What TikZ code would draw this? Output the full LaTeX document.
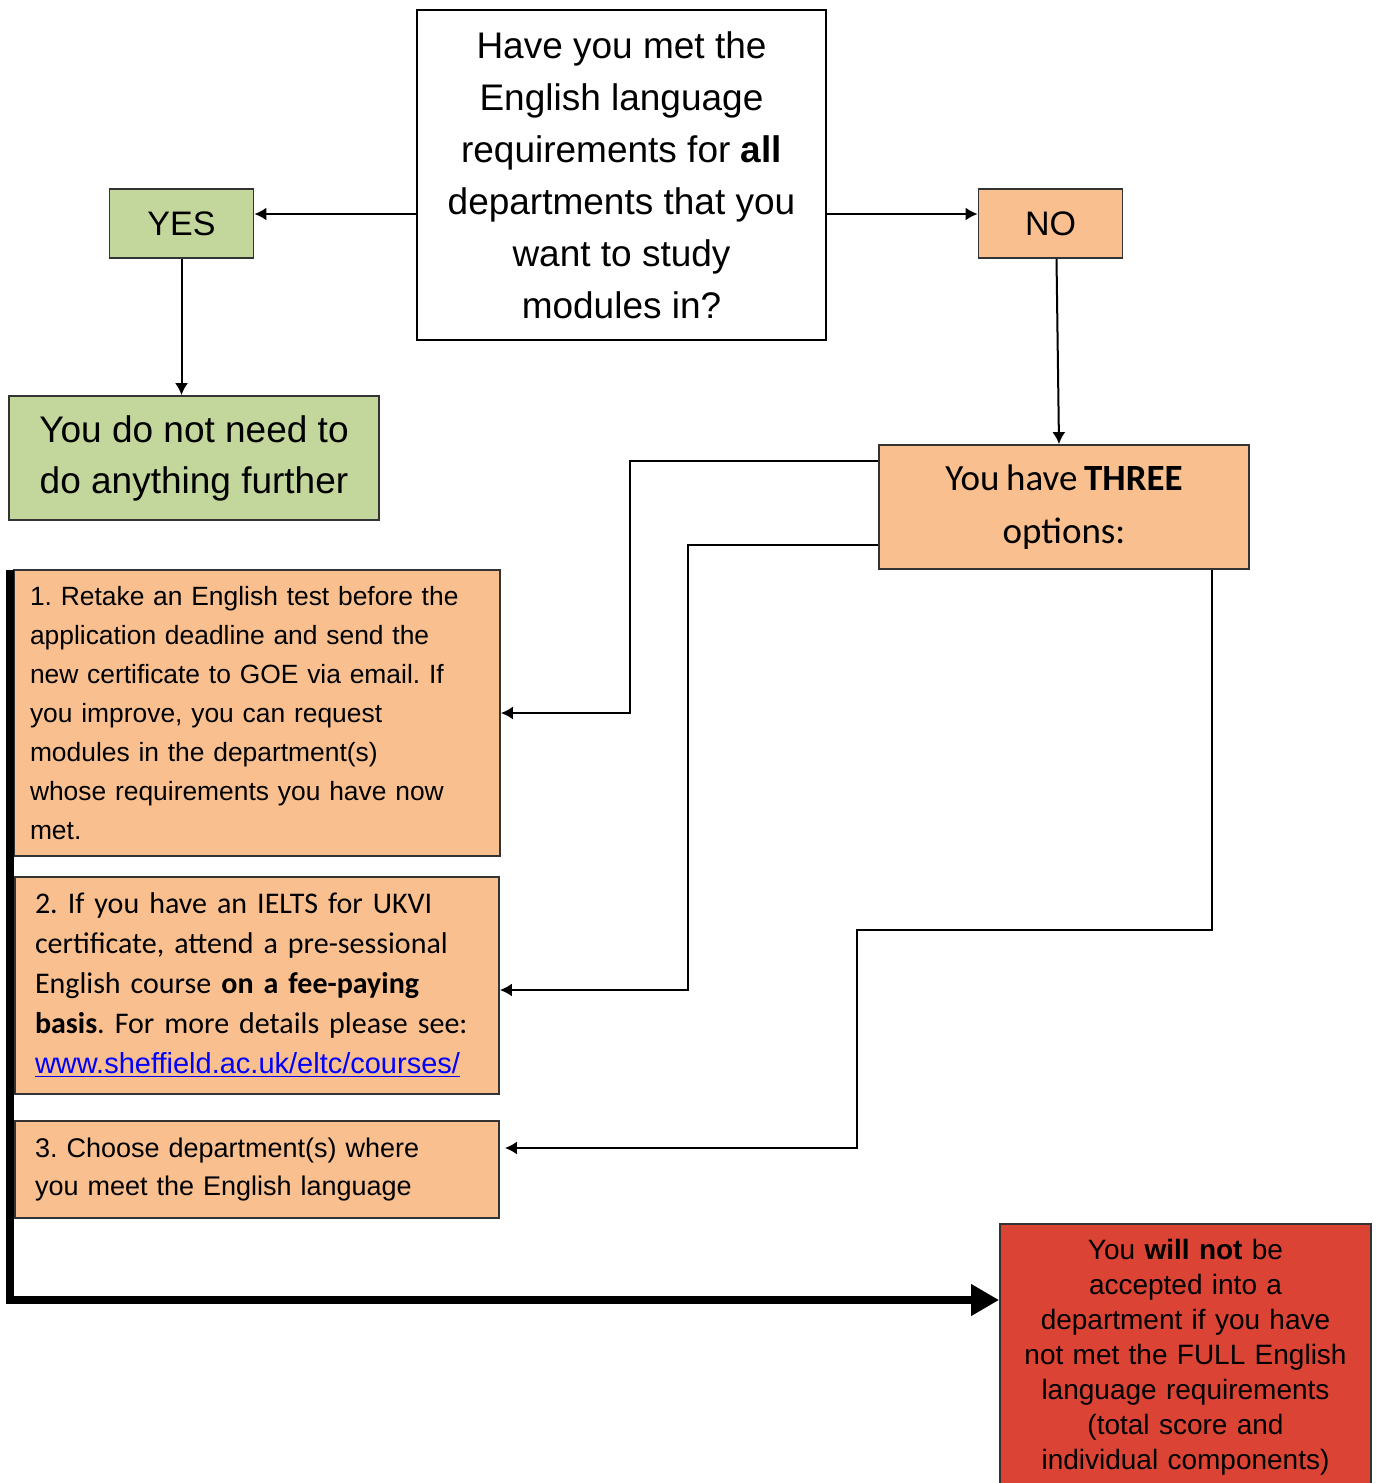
\documentclass[tikz,border=0pt]{standalone}
\usepackage{fontspec}
\setmainfont{Liberation Sans}
\newfontfamily\calfont[WordSpace=0.8]{Carlito}
\usetikzlibrary{arrows.meta,positioning}
\definecolor{optorange}{HTML}{F9BF8F}
\definecolor{yesgreen}{HTML}{C3D69B}
\definecolor{stopred}{HTML}{DB4434}
\definecolor{linkblue}{HTML}{0000FF}
\frenchspacing
\begin{document}
\begin{tikzpicture}[x=0.5pt,y=-0.5pt,question/.style={rectangle, draw=black, fill=white, line width=0.9pt, minimum width=204.5pt, minimum height=165pt, inner sep=0pt, align=center, font=\fontsize{18.5}{26}\selectfont},yes_no/.style={rectangle, draw=black!80, line width=0.9pt, minimum width=72pt, minimum height=34.5pt, inner sep=0pt, font=\fontsize{17}{20}\selectfont},result/.style={rectangle, draw=black!80, line width=0.9pt, minimum width=185pt, minimum height=62pt, inner sep=0pt, align=center},opt/.style={rectangle, draw=black!80, fill=optorange, line width=0.9pt, inner ysep=0pt, align=left},stop/.style={rectangle, draw=black!80, fill=stopred, line width=0.9pt, inner xsep=0pt, inner ysep=7.5pt, text width=185.5pt, align=center, font=\fontsize{14}{17.5}\selectfont},conn/.style={line width=1pt, -{Latex[length=6pt,width=6.5pt]}},]
            \clip (0,0) rectangle (1379,1483);
            \node[question] (q) at (621.5,175) {Have you met the\\English language\\requirements for \textbf{all}\\departments that you\\want to study\\modules in?};
            \node[yes_no, fill=yesgreen] (yes) at (181.5,223.5) {YES};
            \node[yes_no, fill=optorange] (no) at (1050.5,223.5) {NO};
            \node[result, fill=yesgreen, font=\fontsize{18.5}{25.5}\selectfont] (done) at (194,458) {You do not need to\\do anything further};
            \node[result, fill=optorange, font=\calfont\fontsize{18.5}{26.5}\selectfont] (three) at (1064,507) {You have \textbf{THREE}\\options:};
            \node[opt, inner xsep=8pt, text width=227pt, minimum height=143pt, font=\fontsize{13.2}{19.5}\selectfont] (opt1) at (257,713) {1. Retake an English test before the\\application deadline and send the\\new certificate to GOE via email. If\\you improve, you can request\\modules in the department(s)\\whose requirements you have now\\met.};
            \node[opt, inner xsep=10pt, text width=222pt, minimum height=108.5pt, font=\calfont\fontsize{15}{20}\selectfont] (opt2) at (257,985.5) {2. If you have an IELTS for UKVI\\certificate, attend a pre-sessional\\English course \textbf{on a fee-paying}\\\textbf{basis}. For more details please see:\\{\rmfamily\fontsize{14.5}{20}\selectfont\color{linkblue}\underline{www.sheffield.ac.uk/eltc/courses/}}};
            \node[opt, inner xsep=10pt, text width=222pt, minimum height=48.5pt, font=\fontsize{13.5}{19}\selectfont] (opt3) at (257,1169.5) {3. Choose department(s) where\\you meet the English language};
            \node[stop, anchor=north] (stopbox) at (1185.5,1223) {You \textbf{will not} be\\accepted into a\\department if you have\\not met the FULL English\\language requirements\\(total score and\\individual components)};
            % question -> yes / no
            \coordinate (qleft) at ([yshift=-19.5pt]q.west);
            \coordinate (qright) at ([yshift=-19.5pt]q.east);
            \draw[conn] (qleft) -- (qleft -| yes.east);
            \draw[conn] (qright) -- (qright -| no.west);
            \draw[conn] (yes.south) -- (yes.south |- done.north);
            \draw[conn] ([xshift=3pt]no.south) -- ([xshift=-2.5pt]three.north);
            % three options -> boxes
            \draw[conn] ([yshift=23pt]three.west) -- ++(-124pt,0) |- (opt1.east);
            \draw[conn] ([yshift=-19pt]three.west) -- ++(-95pt,0) |- ([yshift=-2.25pt]opt2.east);
            \draw[conn] ([xshift=74pt]three.south) -- ++(0,-180pt) -- ++(-177.5pt,0) |- ([xshift=2.5pt,yshift=10.75pt]opt3.east);
            % thick line to the red box
            \coordinate (stem) at (10,570);
            \coordinate (corner) at (10,1300);
            \draw[line width=4pt, line join=miter, -{Triangle[length=14pt,width=15pt]}] (stem) -- (corner) -- (corner -| stopbox.west);
        \end{tikzpicture}
\end{document}
